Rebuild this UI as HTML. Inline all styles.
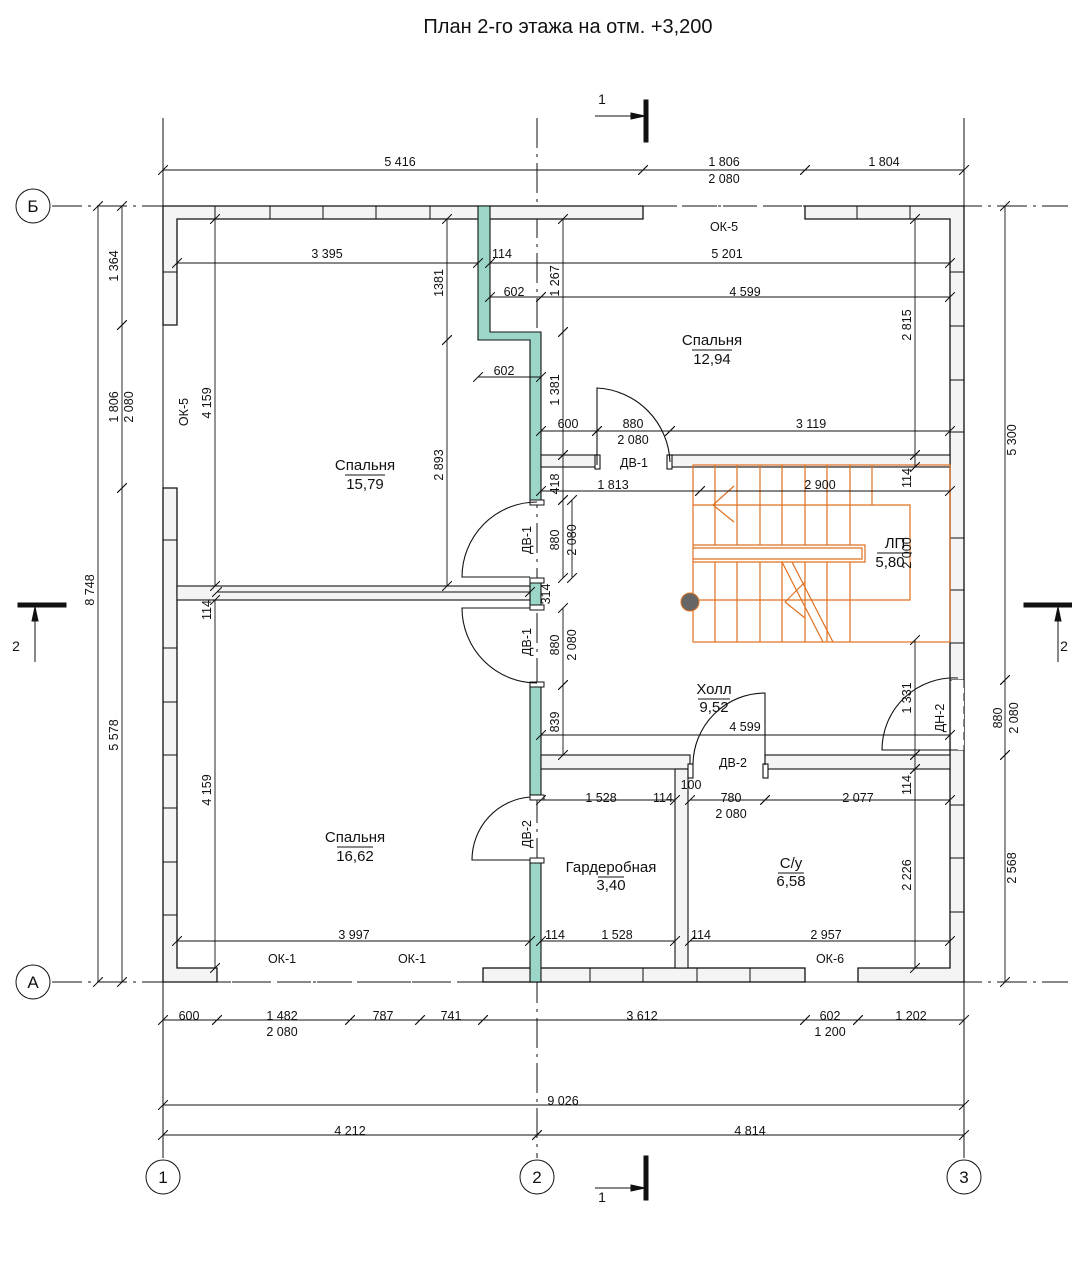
<!DOCTYPE html>
<html><head><meta charset="utf-8"><style>
html,body{margin:0;padding:0;background:#fff}
svg{display:block}
text{font-family:"Liberation Sans Narrow","Liberation Sans",sans-serif;font-size:12.5px;fill:#111}
</style></head><body>
<svg width="1072" height="1278" viewBox="0 0 1072 1278" xmlns="http://www.w3.org/2000/svg">
<defs>
<marker id="t" viewBox="-5 -5 10 10" markerWidth="10" markerHeight="10" orient="0" markerUnits="userSpaceOnUse"><path d="M-5,5 L5,-5" stroke="#111" stroke-width="1"/></marker>
</defs>
<text x="568" y="33" text-anchor="middle" style="font-size:20px">План 2-го этажа на отм. +3,200</text>

<g stroke="#111" stroke-width="1" fill="none">
<line x1="163" y1="118" x2="163" y2="1158"/>
<line x1="964" y1="118" x2="964" y2="1158"/>
<line x1="537" y1="118" x2="537" y2="1158" stroke-dasharray="30,6,3,6"/>
<line x1="52" y1="206" x2="1068" y2="206" stroke-dasharray="30,6,3,6"/>
<line x1="52" y1="982" x2="1068" y2="982" stroke-dasharray="30,6,3,6"/>
<circle cx="33" cy="206" r="17"/><circle cx="33" cy="982" r="17"/>
<circle cx="163" cy="1177" r="17"/><circle cx="537" cy="1177" r="17"/><circle cx="964" cy="1177" r="17"/>
</g>
<text x="33" y="212" text-anchor="middle" style="font-size:17px">Б</text>
<text x="33" y="988" text-anchor="middle" style="font-size:17px">А</text>
<text x="163" y="1183" text-anchor="middle" style="font-size:17px">1</text>
<text x="537" y="1183" text-anchor="middle" style="font-size:17px">2</text>
<text x="964" y="1183" text-anchor="middle" style="font-size:17px">3</text>

<g stroke="#111" fill="#111">
<line x1="595" y1="116" x2="640" y2="116"/><path d="M645,116 l-14,-3 v6z"/>
<rect x="644" y="100" width="4" height="42"/>
<line x1="595" y1="1188" x2="640" y2="1188"/><path d="M645,1188 l-14,-3 v6z"/>
<rect x="644" y="1156" width="4" height="44"/>
<rect x="18" y="603" width="48" height="4"/><line x1="35" y1="662" x2="35" y2="612"/><path d="M35,607 l-3,14 h6z"/>
<rect x="1024" y="603" width="48" height="4"/><line x1="1058" y1="662" x2="1058" y2="612"/><path d="M1058,607 l-3,14 h6z"/>
</g>
<text x="602" y="104" text-anchor="middle" style="font-size:14px">1</text>
<text x="602" y="1202" text-anchor="middle" style="font-size:14px">1</text>
<text x="16" y="651" text-anchor="middle" style="font-size:14px">2</text>
<text x="1064" y="651" text-anchor="middle" style="font-size:14px">2</text>

<g fill="#f4f4f4" stroke="#111" stroke-width="1.3">
<path d="M163,206 H643 V219 H177 V325 H163 Z"/>
<path d="M805,206 H964 V982 H858 V968 H950 V219 H805 Z"/>
<path d="M163,488 H177 V968 H217 V982 H163 Z"/>
<rect x="483" y="968" width="322" height="14"/>
</g>
<g stroke="#111" stroke-width="1">
<line x1="215" y1="206" x2="215" y2="219"/><line x1="270" y1="206" x2="270" y2="219"/><line x1="323" y1="206" x2="323" y2="219"/><line x1="376" y1="206" x2="376" y2="219"/><line x1="430" y1="206" x2="430" y2="219"/>
<line x1="857" y1="206" x2="857" y2="219"/><line x1="910" y1="206" x2="910" y2="219"/>
<line x1="950" y1="272" x2="964" y2="272"/><line x1="950" y1="326" x2="964" y2="326"/><line x1="950" y1="380" x2="964" y2="380"/><line x1="950" y1="432" x2="964" y2="432"/>
<line x1="950" y1="538" x2="964" y2="538"/><line x1="950" y1="590" x2="964" y2="590"/><line x1="950" y1="643" x2="964" y2="643"/>
<line x1="950" y1="805" x2="964" y2="805"/><line x1="950" y1="858" x2="964" y2="858"/><line x1="950" y1="912" x2="964" y2="912"/>
<line x1="163" y1="272" x2="177" y2="272"/><line x1="163" y1="540" x2="177" y2="540"/><line x1="163" y1="648" x2="177" y2="648"/><line x1="163" y1="702" x2="177" y2="702"/><line x1="163" y1="755" x2="177" y2="755"/><line x1="163" y1="808" x2="177" y2="808"/><line x1="163" y1="862" x2="177" y2="862"/><line x1="163" y1="915" x2="177" y2="915"/>
<line x1="590" y1="968" x2="590" y2="982"/><line x1="643" y1="968" x2="643" y2="982"/><line x1="697" y1="968" x2="697" y2="982"/><line x1="750" y1="968" x2="750" y2="982"/>
<line x1="163" y1="325" x2="163" y2="488" stroke-dasharray="14,6"/>
<line x1="217" y1="982" x2="483" y2="982" stroke-dasharray="14,6"/>
<line x1="805" y1="982" x2="858" y2="982" stroke-dasharray="14,6"/>
<line x1="643" y1="206" x2="805" y2="206" stroke-dasharray="14,6"/>
<line x1="950" y1="680" x2="964" y2="680"/><line x1="950" y1="750" x2="964" y2="750"/>
</g>
<rect x="952" y="680" width="12" height="70" fill="#fff"/>
<line x1="964" y1="680" x2="964" y2="750" stroke="#111" stroke-dasharray="8,5"/>

<g fill="#9bd6c8" stroke="#111" stroke-width="1.1">
<path d="M478,206 H490 V332 H541 V500 H530 V340 H478 Z"/>
<rect x="530" y="685" width="11" height="110"/>
<rect x="530" y="860" width="11" height="122"/>
<rect x="530" y="580" width="11" height="28"/>
</g>
<g fill="#fff" stroke="#111"><rect x="530" y="500" width="14" height="5"/><rect x="530" y="578" width="14" height="5"/><rect x="530" y="605" width="14" height="5"/><rect x="530" y="682" width="14" height="5"/><rect x="530" y="795" width="14" height="5"/><rect x="530" y="858" width="14" height="5"/></g>

<g fill="#f4f4f4" stroke="#111" stroke-width="1.1">
<rect x="177" y="586" width="353" height="14"/>
<rect x="541" y="455" width="56" height="12"/>
<rect x="670" y="455" width="280" height="12"/>
<rect x="541" y="755" width="149" height="14"/>
<rect x="765" y="755" width="185" height="14"/>
<rect x="675" y="769" width="13" height="199"/>
<rect x="595" y="455" width="5" height="14" fill="#fff"/><rect x="667" y="455" width="5" height="14" fill="#fff"/>
<rect x="688" y="764" width="5" height="14" fill="#fff"/><rect x="763" y="764" width="5" height="14" fill="#fff"/>
</g>

<g fill="none" stroke="#111" stroke-width="1.1">
<path d="M537,502 A75,75 0 0 0 462,577 H530"/>
<path d="M530,608 H462 A75,75 0 0 0 537,683"/>
<path d="M530,797 A63,63 0 0 0 472,860 H530"/>
<path d="M597,465 V388 A77,77 0 0 1 670,462"/>
<path d="M765,765 V693 A72,72 0 0 0 693,765"/>
<path d="M958,678 A72,72 0 0 0 882,750 H958"/>
</g>

<g fill="none" stroke="#e07020" stroke-width="1.2">
<rect x="693" y="465" width="257" height="177"/>
<path d="M693,505 H910 V600 H693"/>
<path d="M693,545 H865 V562 H693"/>
<path d="M693,548 H862 V559 H693"/>
<path d="M715,465 V545 M737,465 V545 M760,465 V545 M782,465 V545 M805,465 V545 M827,465 V545 M850,465 V545 M872,465 V505"/>
<path d="M715,562 V642 M737,562 V642 M760,562 V642 M782,562 V642 M805,562 V642 M827,562 V642 M850,562 V642"/>
<path d="M782,562 L823,642 M792,562 L833,642"/>
<path d="M734,486 L713,505 L734,522 M785,602 L805,582 M785,602 L805,618"/>
</g>
<circle cx="690" cy="602" r="9" fill="#666" stroke="#e07020"/>
<text x="895" y="548" text-anchor="middle" style="font-size:15px">ЛП</text>
<line x1="877" y1="553" x2="912" y2="553" stroke="#111"/>
<text x="890" y="567" text-anchor="middle" style="font-size:15px">5,80</text>

<g stroke="#111" stroke-width="0.9" marker-start="url(#t)" marker-end="url(#t)">
<line x1="163" y1="170" x2="643" y2="170"/><line x1="643" y1="170" x2="805" y2="170"/><line x1="805" y1="170" x2="964" y2="170"/>
<line x1="98" y1="206" x2="98" y2="982"/>
<line x1="122" y1="206" x2="122" y2="325"/><line x1="122" y1="325" x2="122" y2="488"/><line x1="122" y1="488" x2="122" y2="982"/>
<line x1="1005" y1="206" x2="1005" y2="680"/><line x1="1005" y1="680" x2="1005" y2="755"/><line x1="1005" y1="755" x2="1005" y2="982"/>
<line x1="163" y1="1020" x2="217" y2="1020"/><line x1="217" y1="1020" x2="350" y2="1020"/><line x1="350" y1="1020" x2="420" y2="1020"/><line x1="420" y1="1020" x2="483" y2="1020"/><line x1="483" y1="1020" x2="805" y2="1020"/><line x1="805" y1="1020" x2="858" y2="1020"/><line x1="858" y1="1020" x2="964" y2="1020"/>
<line x1="163" y1="1105" x2="964" y2="1105"/>
<line x1="163" y1="1135" x2="537" y2="1135"/><line x1="537" y1="1135" x2="964" y2="1135"/>
<line x1="177" y1="263" x2="478" y2="263"/><line x1="490" y1="263" x2="950" y2="263"/>
<line x1="490" y1="297" x2="541" y2="297"/><line x1="541" y1="297" x2="950" y2="297"/>
<line x1="478" y1="377" x2="541" y2="377"/>
<line x1="541" y1="431" x2="597" y2="431"/><line x1="597" y1="431" x2="670" y2="431"/><line x1="670" y1="431" x2="950" y2="431"/>
<line x1="541" y1="491" x2="700" y2="491"/><line x1="700" y1="491" x2="950" y2="491"/>
<line x1="447" y1="219" x2="447" y2="340"/><line x1="447" y1="340" x2="447" y2="586"/>
<line x1="215" y1="219" x2="215" y2="586"/><line x1="215" y1="600" x2="215" y2="968"/>
<line x1="563" y1="219" x2="563" y2="332"/><line x1="563" y1="332" x2="563" y2="455"/><line x1="563" y1="455" x2="563" y2="500"/>
<line x1="563" y1="500" x2="563" y2="578"/><line x1="563" y1="608" x2="563" y2="685"/><line x1="563" y1="685" x2="563" y2="755"/>
<line x1="572" y1="500" x2="572" y2="578"/>
<line x1="915" y1="219" x2="915" y2="455"/><line x1="915" y1="455" x2="915" y2="467"/><line x1="915" y1="640" x2="915" y2="755"/><line x1="915" y1="755" x2="915" y2="769"/><line x1="915" y1="769" x2="915" y2="968"/>
<line x1="541" y1="735" x2="950" y2="735"/>
<line x1="541" y1="800" x2="675" y2="800"/><line x1="690" y1="800" x2="765" y2="800"/><line x1="765" y1="800" x2="950" y2="800"/>
<line x1="177" y1="941" x2="530" y2="941"/><line x1="541" y1="941" x2="675" y2="941"/><line x1="690" y1="941" x2="950" y2="941"/>
<line x1="217" y1="592" x2="530" y2="592"/>
</g>

<g>
<text x="400" y="166" text-anchor="middle">5 416</text>
<text x="724" y="166" text-anchor="middle">1 806</text><text x="724" y="183" text-anchor="middle">2 080</text>
<text x="884" y="166" text-anchor="middle">1 804</text>
<text x="327" y="258" text-anchor="middle">3 395</text><text x="502" y="258" text-anchor="middle">114</text><text x="727" y="258" text-anchor="middle">5 201</text>
<text x="514" y="296" text-anchor="middle">602</text><text x="745" y="296" text-anchor="middle">4 599</text>
<text x="504" y="375" text-anchor="middle">602</text>
<text x="568" y="428" text-anchor="middle">600</text><text x="633" y="428" text-anchor="middle">880</text><text x="633" y="444" text-anchor="middle">2 080</text><text x="811" y="428" text-anchor="middle">3 119</text>
<text x="634" y="467" text-anchor="middle">ДВ-1</text>
<text x="613" y="489" text-anchor="middle">1 813</text><text x="820" y="489" text-anchor="middle">2 900</text>
<text x="745" y="731" text-anchor="middle">4 599</text>
<text x="733" y="767" text-anchor="middle">ДВ-2</text>
<text x="601" y="802" text-anchor="middle">1 528</text><text x="663" y="802" text-anchor="middle">114</text><text x="691" y="789" text-anchor="middle">100</text>
<text x="731" y="802" text-anchor="middle">780</text><text x="731" y="818" text-anchor="middle">2 080</text><text x="858" y="802" text-anchor="middle">2 077</text>
<text x="354" y="939" text-anchor="middle">3 997</text><text x="555" y="939" text-anchor="middle">114</text><text x="617" y="939" text-anchor="middle">1 528</text><text x="701" y="939" text-anchor="middle">114</text><text x="826" y="939" text-anchor="middle">2 957</text>
<text x="282" y="963" text-anchor="middle">ОК-1</text><text x="412" y="963" text-anchor="middle">ОК-1</text><text x="830" y="963" text-anchor="middle">ОК-6</text>
<text x="724" y="231" text-anchor="middle">ОК-5</text>
<text x="189" y="1020" text-anchor="middle">600</text><text x="282" y="1020" text-anchor="middle">1 482</text><text x="282" y="1036" text-anchor="middle">2 080</text>
<text x="383" y="1020" text-anchor="middle">787</text><text x="451" y="1020" text-anchor="middle">741</text><text x="642" y="1020" text-anchor="middle">3 612</text>
<text x="830" y="1020" text-anchor="middle">602</text><text x="830" y="1036" text-anchor="middle">1 200</text><text x="911" y="1020" text-anchor="middle">1 202</text>
<text x="563" y="1105" text-anchor="middle">9 026</text>
<text x="350" y="1135" text-anchor="middle">4 212</text><text x="750" y="1135" text-anchor="middle">4 814</text>
</g>
<g>
<text transform="translate(94,590) rotate(-90)" text-anchor="middle">8 748</text>
<text transform="translate(118,266) rotate(-90)" text-anchor="middle">1 364</text>
<text transform="translate(118,407) rotate(-90)" text-anchor="middle">1 806</text>
<text transform="translate(133,407) rotate(-90)" text-anchor="middle">2 080</text>
<text transform="translate(118,735) rotate(-90)" text-anchor="middle">5 578</text>
<text transform="translate(188,412) rotate(-90)" text-anchor="middle">ОК-5</text>
<text transform="translate(211,403) rotate(-90)" text-anchor="middle">4 159</text>
<text transform="translate(211,610) rotate(-90)" text-anchor="middle">114</text>
<text transform="translate(211,790) rotate(-90)" text-anchor="middle">4 159</text>
<text transform="translate(443,283) rotate(-90)" text-anchor="middle">1381</text>
<text transform="translate(443,465) rotate(-90)" text-anchor="middle">2 893</text>
<text transform="translate(559,281) rotate(-90)" text-anchor="middle">1 267</text>
<text transform="translate(559,390) rotate(-90)" text-anchor="middle">1 381</text>
<text transform="translate(559,484) rotate(-90)" text-anchor="middle">418</text>
<text transform="translate(559,540) rotate(-90)" text-anchor="middle">880</text>
<text transform="translate(576,540) rotate(-90)" text-anchor="middle">2 080</text>
<text transform="translate(531,540) rotate(-90)" text-anchor="middle">ДВ-1</text>
<text transform="translate(550,594) rotate(-90)" text-anchor="middle">314</text>
<text transform="translate(559,645) rotate(-90)" text-anchor="middle">880</text>
<text transform="translate(576,645) rotate(-90)" text-anchor="middle">2 080</text>
<text transform="translate(531,642) rotate(-90)" text-anchor="middle">ДВ-1</text>
<text transform="translate(559,722) rotate(-90)" text-anchor="middle">839</text>
<text transform="translate(531,834) rotate(-90)" text-anchor="middle">ДВ-2</text>
<text transform="translate(911,325) rotate(-90)" text-anchor="middle">2 815</text>
<text transform="translate(911,478) rotate(-90)" text-anchor="middle">114</text>
<text transform="translate(911,698) rotate(-90)" text-anchor="middle">1 331</text>
<text transform="translate(911,785) rotate(-90)" text-anchor="middle">114</text>
<text transform="translate(911,875) rotate(-90)" text-anchor="middle">2 226</text>
<text transform="translate(911,553) rotate(-90)" text-anchor="middle">2 000</text>
<text transform="translate(944,718) rotate(-90)" text-anchor="middle">ДН-2</text>
<text transform="translate(1016,440) rotate(-90)" text-anchor="middle">5 300</text>
<text transform="translate(1002,718) rotate(-90)" text-anchor="middle">880</text>
<text transform="translate(1018,718) rotate(-90)" text-anchor="middle">2 080</text>
<text transform="translate(1016,868) rotate(-90)" text-anchor="middle">2 568</text>
</g>

<g>
<text x="365" y="470" text-anchor="middle" style="font-size:15px">Спальня</text><line x1="345" y1="475" x2="385" y2="475" stroke="#111"/><text x="365" y="489" text-anchor="middle" style="font-size:15px">15,79</text>
<text x="712" y="345" text-anchor="middle" style="font-size:15px">Спальня</text><line x1="692" y1="350" x2="732" y2="350" stroke="#111"/><text x="712" y="364" text-anchor="middle" style="font-size:15px">12,94</text>
<text x="355" y="842" text-anchor="middle" style="font-size:15px">Спальня</text><line x1="337" y1="847" x2="373" y2="847" stroke="#111"/><text x="355" y="861" text-anchor="middle" style="font-size:15px">16,62</text>
<text x="714" y="694" text-anchor="middle" style="font-size:15px">Холл</text><line x1="698" y1="699" x2="730" y2="699" stroke="#111"/><text x="714" y="712" text-anchor="middle" style="font-size:15px">9,52</text>
<text x="611" y="872" text-anchor="middle" style="font-size:15px">Гардеробная</text><line x1="598" y1="877" x2="624" y2="877" stroke="#111"/><text x="611" y="890" text-anchor="middle" style="font-size:15px">3,40</text>
<text x="791" y="868" text-anchor="middle" style="font-size:15px">С/у</text><line x1="778" y1="873" x2="804" y2="873" stroke="#111"/><text x="791" y="886" text-anchor="middle" style="font-size:15px">6,58</text>
</g>
</svg>
</body></html>
